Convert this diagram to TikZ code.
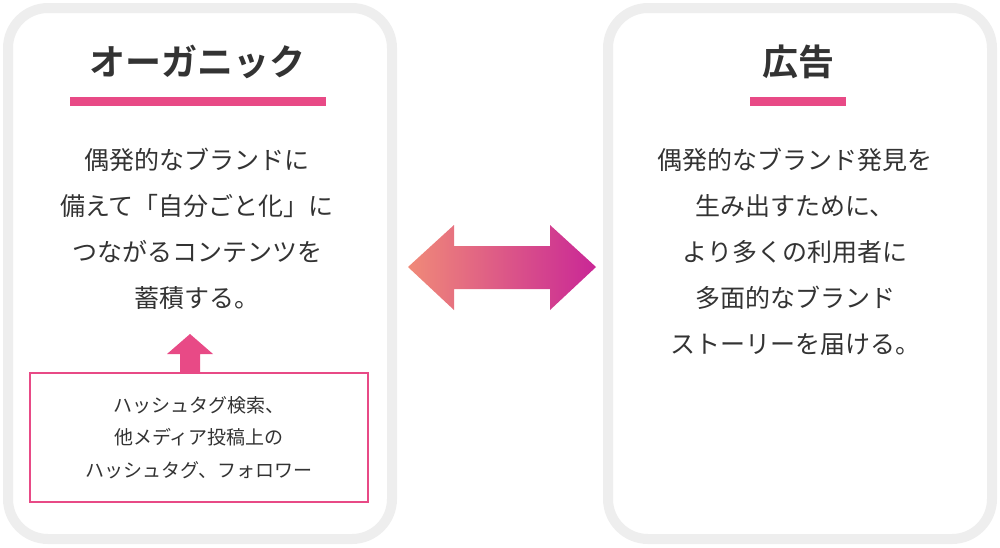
\documentclass[tikz,border=0pt]{standalone}
\usepackage{fontspec}
\setmainfont{Noto Sans CJK JP}
\newfontfamily\cjkbold{Noto Sans CJK JP Bold}
\usetikzlibrary{positioning}
\definecolor{txtgray}{HTML}{333333}
\definecolor{panelgray}{HTML}{EEEEEE}
\definecolor{barpink}{HTML}{E84A86}
\definecolor{arrowsalmon}{HTML}{F08A78}
\definecolor{arrowpink}{HTML}{F06A9E}
\definecolor{arrowmagenta}{HTML}{C92796}
\begin{document}
\begin{tikzpicture}
[x=1pt, y=-1pt, every node/.style={inner sep=0pt, text=txtgray}]
\tikzset{
  panel/.style={draw=panelgray, line width=10pt, fill=white, rounded corners=40pt},
  title/.style={font=\cjkbold\fontsize{36}{40}\selectfont},
  body/.style={align=center, font=\fontsize{25}{46}\selectfont},
  small/.style={align=center, font=\fontsize{19}{32.5}\selectfont},
}
\useasboundingbox (0,0) rectangle (1000,547);
% panels
\draw [panel] (8,8) rectangle (392,539);
\draw [panel] (608,8) rectangle (992,539);
% left
\node (orgtitle) [title] at (197,62) {オーガニック};
\fill [barpink] (70,97) rectangle (326,106);
\node (orgtext) [body] at (197,229) {偶発的なブランドに\\備えて「自分ごと化」に\\つながるコンテンツを\\蓄積する。};
\node (tagbox) [draw=barpink, line width=1.2pt, minimum width=338pt, minimum height=129pt, small] at (199,437.5) {ハッシュタグ検索、\\他メディア投稿上の\\ハッシュタグ、フォロワー};
\fill [barpink] (180,372) -- (180,354) -- (167,354) -- (190,334) -- (213,354) -- (200,354) -- (200,372) -- cycle;
% right
\node (adtitle) [title] at (798,62) {広告};
\fill [barpink] (750,97) rectangle (846,106);
\node (adtext) [body] at (795,252) {偶発的なブランド発見を\\生み出すために、\\より多くの利用者に\\多面的なブランド\\ストーリーを届ける。};
% double arrow
\shade [left color=arrowsalmon, middle color=arrowpink, right color=arrowmagenta]
  (408,267) -- (454,225) -- (454,246) -- (550,246) -- (550,225) -- (596,267)
  -- (550,310) -- (550,289) -- (454,289) -- (454,310) -- cycle;
\end{tikzpicture}
\end{document}
